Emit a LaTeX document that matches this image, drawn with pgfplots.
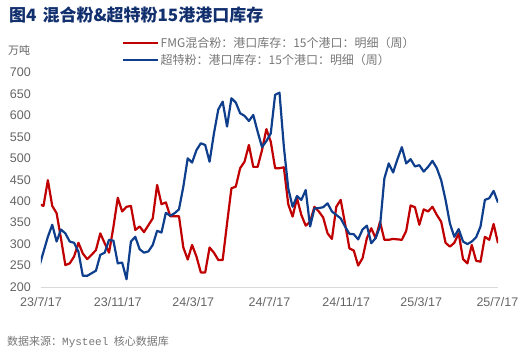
\documentclass[border=0pt]{standalone}
\usepackage{fontspec}
\setmainfont{Liberation Sans}
\newfontfamily\cjk{Noto Sans CJK SC}
\newfontfamily\mono{Liberation Mono}
\usepackage{pgfplots}
\usepackage{pgfplotstable}
\pgfplotsset{compat=1.18}
\definecolor{fmgred}{RGB}{192,0,0}
\definecolor{sfblue}{RGB}{14,62,140}
\definecolor{titleblue}{RGB}{18,48,110}
\definecolor{txtgray}{RGB}{100,100,100}
\definecolor{leggray}{RGB}{118,118,118}
\definecolor{axgray}{RGB}{217,217,217}

\pgfplotstableread{
day red blue
-3 393 247
4 389 282
11 449 317
18 389 345
25 372 306
32 313 334
39 251 325
46 255 306
53 271 303
60 303 282
67 278 226
74 265 226
81 275 232
88 286 238
95 325 275
102 302 280
109 280 310
116 340 308
123 408 255
130 376 257
137 387 218
144 389 306
151 333 317
158 341 288
165 328 280
172 344 283
179 360 298
186 438 331
193 393 327
200 397 373
207 365 366
214 365 372
221 365 381
228 292 434
235 264 500
242 298 490
249 271 519
256 234 535
263 234 531
270 292 492
277 280 558
284 263 614
291 263 632
298 348 574
305 430 640
312 434 630
319 477 605
326 492 599
333 531 587
340 480 601
347 480 562
354 519 526
361 568 540
368 539 558
375 477 648
382 477 653
389 479 527
396 393 430
403 364 387
410 407 412
417 368 403
424 343 426
431 352 341
438 387 383
445 376 384
452 362 386
459 325 395
466 312 376
473 387 368
480 403 360
487 348 341
494 290 324
501 285 323
508 250 311
515 267 334
522 314 343
529 337 302
536 314 314
543 352 341
550 310 453
557 310 488
564 312 467
571 311 498
578 310 526
585 331 488
592 390 498
599 386 481
606 345 484
613 381 469
620 376 480
627 387 494
634 368 477
641 352 449
648 303 403
655 294 348
662 303 317
669 325 335
676 265 306
683 255 300
690 298 306
697 261 316
704 259 341
711 317 403
718 310 407
725 347 424
732 302 397
}\datatable

\begin{document}
\begin{tikzpicture}[x=1pt,y=1pt]
\useasboundingbox (0,0) rectangle (520,355);
\node[anchor=west, inner sep=0pt, text=titleblue] at (9,340)
  {\cjk\bfseries\fontsize{17}{19}\selectfont 图4\hspace{0.35em}混合粉\&超特粉15港港口库存};
\node[anchor=west, inner sep=0pt, text=txtgray] at (8,305)
  {\cjk\fontsize{11}{13}\selectfont 万吨};
\node[anchor=west, inner sep=0pt, text=leggray] at (7,13)
  {\cjk\fontsize{11}{12}\selectfont 数据来源：{\mono Mysteel}\hspace{0.5em}核心数据库};
\begin{axis}[
  at={(41pt,68pt)}, anchor=south west,
  scale only axis, width=457pt, height=214.5pt,
  xmin=0, xmax=732, ymin=200, ymax=700,
  axis x line=bottom, axis y line=left,
  x axis line style={draw=axgray, line width=0.8pt, -},
  y axis line style={draw=none},
  tick style={draw=none},
  major tick length=0pt,
  ytick={200,250,...,700},
  xtick={0,123,244,366,489,609,731},
  xticklabels={23/7/17,23/11/17,24/3/17,24/7/17,24/11/17,25/3/17,25/7/17},
  /pgf/number format/assume math mode=true,
  /pgf/number format/1000 sep={},
  yticklabel style={font=\fontsize{12.5}{14}\selectfont, text=txtgray, anchor=east, inner sep=0pt, xshift=-10pt},
  xticklabel style={font=\fontsize{12.5}{14}\selectfont, text=txtgray, anchor=north, inner sep=0pt, yshift=-10pt},
  legend style={at={(axis description cs:0.1772,1.098)}, anchor=west, draw=none, fill=none,
    font=\cjk\fontsize{12}{13}\selectfont, text=leggray, inner sep=0pt, row sep=3pt,
    nodes={inner sep=1pt}},
  legend cell align=left,
  legend image code/.code={\draw[#1, line width=2.5pt] (0pt,0pt) -- (35pt,0pt);},
]
\addplot[fmgred, line width=2.2pt, line join=round, no markers] table[x=day,y=red]{\datatable};
\addlegendentry{FMG混合粉：港口库存：15个港口：明细（周）}
\addplot[sfblue, line width=2.2pt, line join=round, no markers] table[x=day,y=blue]{\datatable};
\addlegendentry{超特粉：港口库存：15个港口：明细（周）}
\end{axis}
\end{tikzpicture}
\end{document}
